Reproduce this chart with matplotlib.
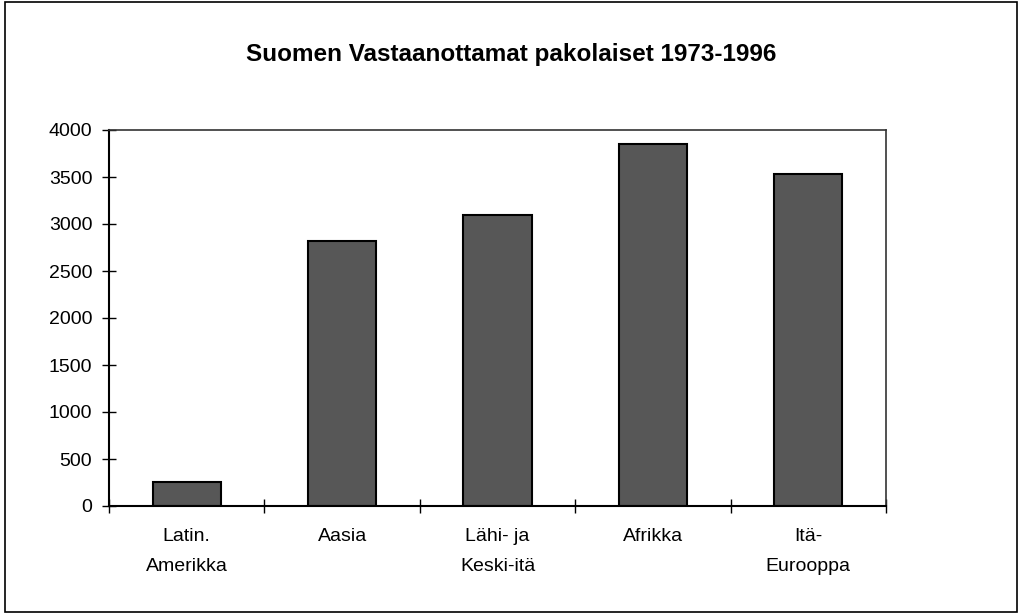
import matplotlib
matplotlib.use("Agg")
import matplotlib.pyplot as plt
from matplotlib.patches import Rectangle

# Data
categories = ["Latin.\nAmerikka", "Aasia", "Lähi- ja\nKeski-itä", "Afrikka", "Itä-\nEurooppa"]
values = [255, 2820, 3100, 3850, 3530]
y_ticks = [0, 500, 1000, 1500, 2000, 2500, 3000, 3500, 4000]

plt.rcParams["font.family"] = ["Liberation Sans", "DejaVu Sans"]

fig = plt.figure(figsize=(10.22, 6.16), dpi=100)
ax = fig.add_axes([109 / 1022, 1 - 506 / 616, 777 / 1022, 376 / 616])

x = list(range(len(categories)))
ax.bar(x, values, width=0.44, color="#575757", edgecolor="black", linewidth=1.5)

ax.set_xlim(-0.5, len(categories) - 0.5)
ax.set_ylim(0, 4000)
ax.set_yticks(y_ticks)
ax.set_yticklabels([str(v) for v in y_ticks], fontsize=14)

# category labels sit between boundary ticks
ax.set_xticks([i + 0.5 for i in range(-1, len(categories))])
ax.set_xticklabels([])
ax.set_xticks(x, minor=True)
ax.set_xticklabels(categories, minor=True, fontsize=14, linespacing=1.95)
ax.tick_params(axis="x", which="minor", length=0, pad=16)
ax.tick_params(axis="x", which="major", direction="inout", length=10, width=1)
ax.tick_params(axis="y", direction="inout", length=10, width=1, pad=7)

for side in ["left", "bottom"]:
    ax.spines[side].set_linewidth(1.5)
for side in ["top", "right"]:
    ax.spines[side].set_linewidth(1.2)
    ax.spines[side].set_color("#333333")

fig.text(0.5, 1 - 55 / 616, "Suomen Vastaanottamat pakolaiset 1973-1996",
         ha="center", va="center", fontsize=17.5, fontweight="bold")

# outer chart frame
fig.patches.append(Rectangle((5 / 1022, 4 / 616), 1012 / 1022, 610 / 616,
                             transform=fig.transFigure, fill=False,
                             edgecolor="black", linewidth=1.2))

fig.savefig("out.png", dpi=100)
